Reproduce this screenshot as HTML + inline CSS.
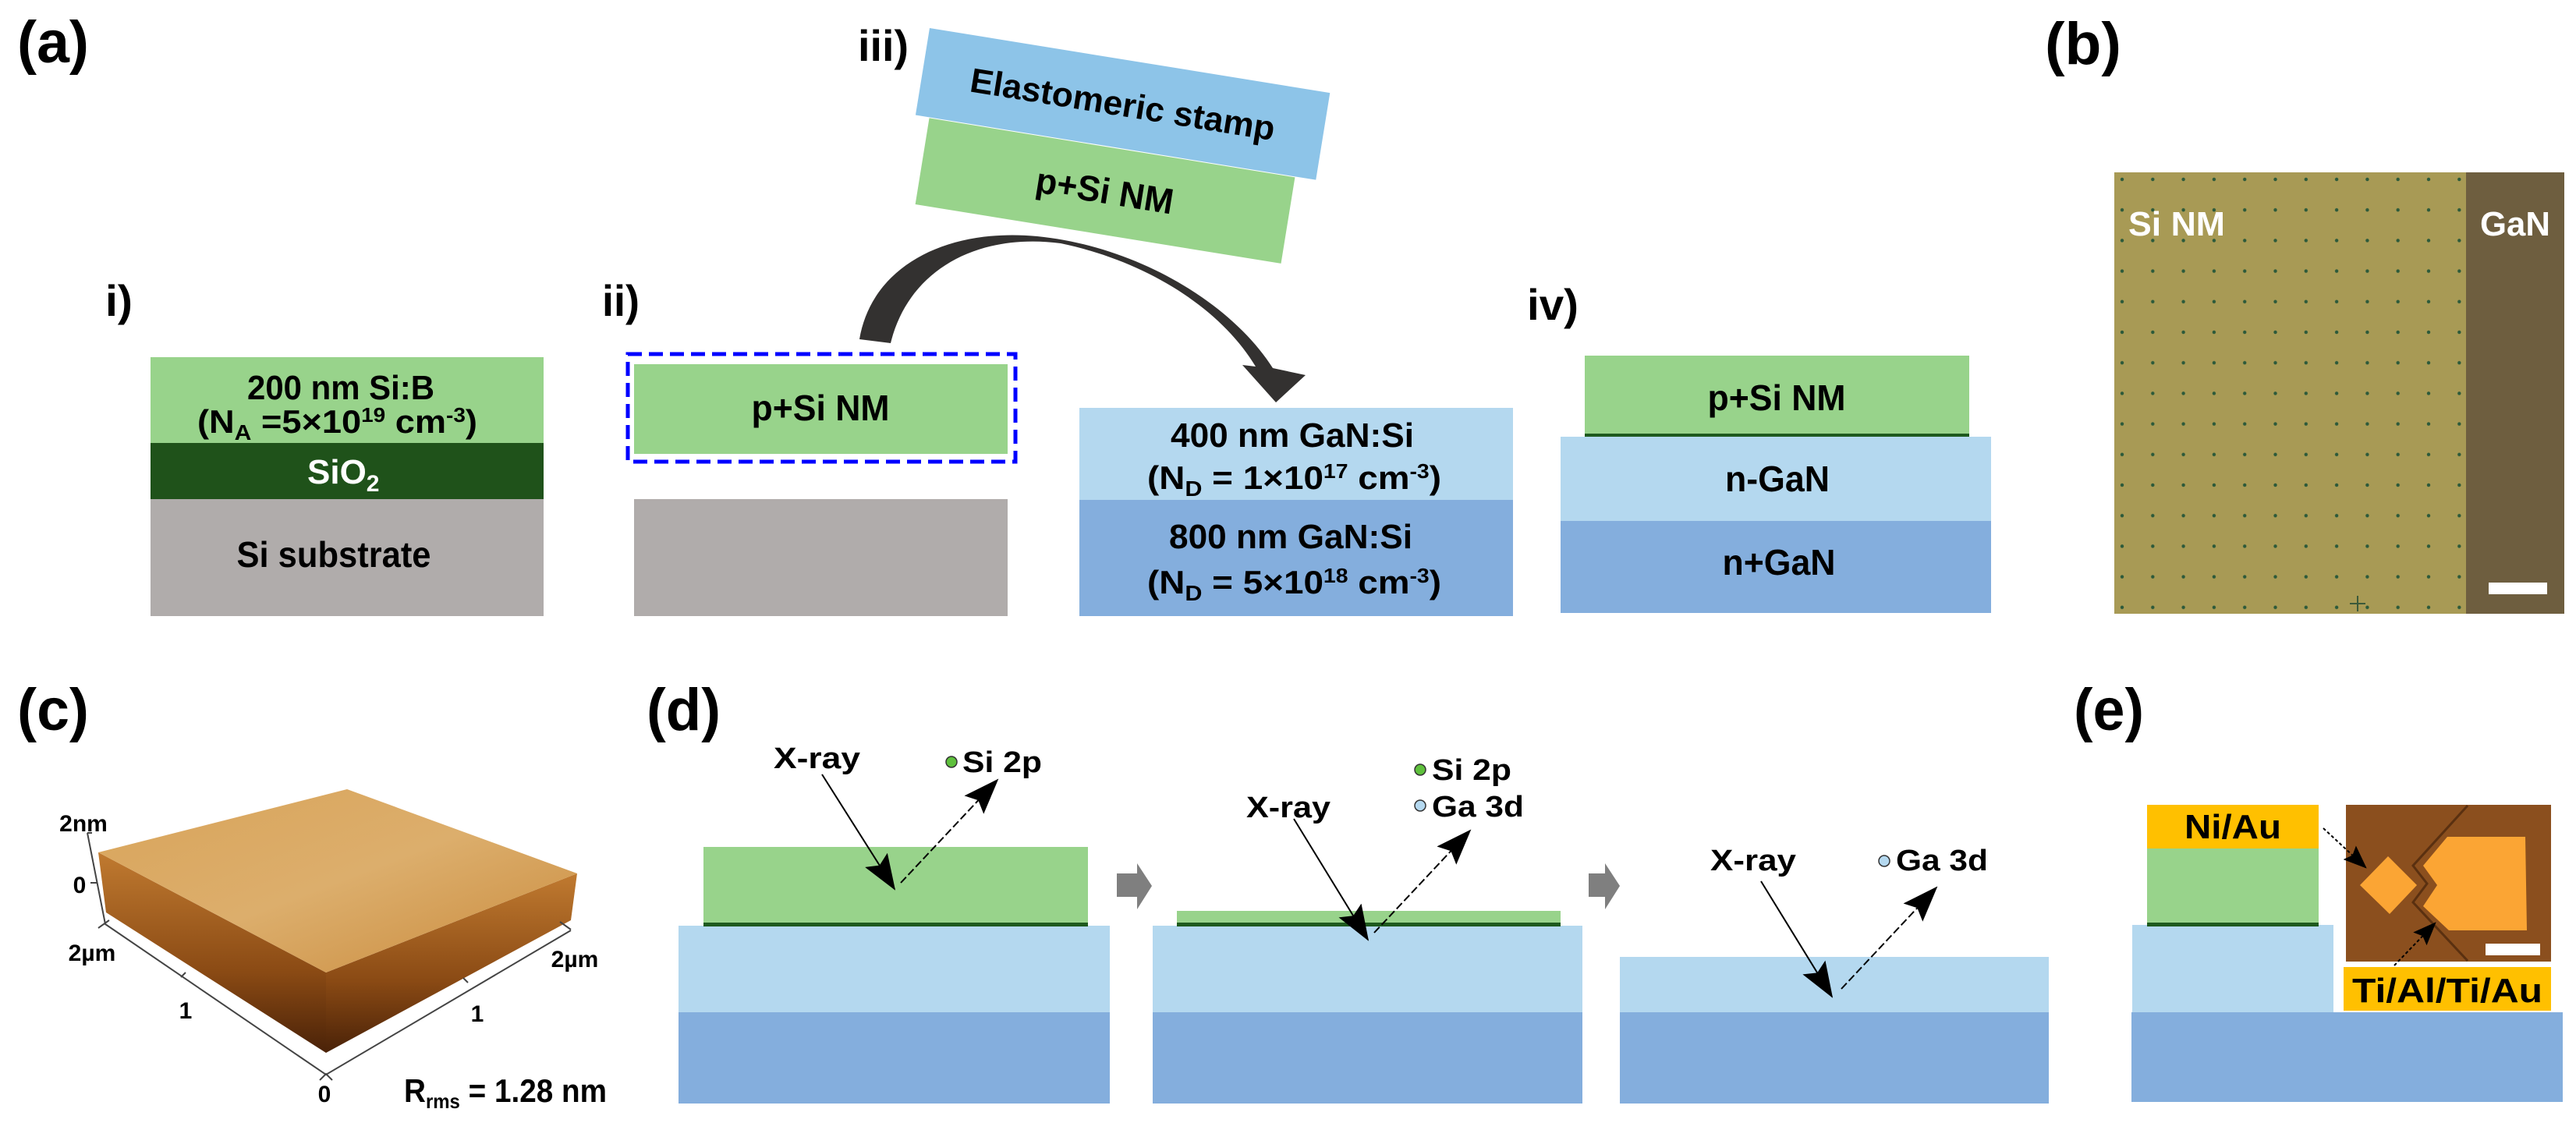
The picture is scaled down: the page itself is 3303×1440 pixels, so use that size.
<!DOCTYPE html>
<html><head><meta charset="utf-8"><style>
html,body{margin:0;padding:0;background:#fff;}
svg{display:block;}
text{font-family:"Liberation Sans Narrow","Liberation Sans",sans-serif;font-weight:bold;fill:#000;}
</style></head><body>
<svg width="3303" height="1440" viewBox="0 0 3303 1440" xmlns="http://www.w3.org/2000/svg">
<defs>
<marker id="ah" markerUnits="userSpaceOnUse" markerWidth="46" markerHeight="34" refX="44" refY="17" orient="auto">
<path d="M0,0 L46,17 L0,34 L8,17 Z" fill="#000"/></marker>
<marker id="ah2" markerUnits="userSpaceOnUse" markerWidth="30" markerHeight="24" refX="29" refY="12" orient="auto">
<path d="M0,0 L30,12 L0,24 L5,12 Z" fill="#000"/></marker>
<pattern id="dots" x="2721" y="230" width="39.3" height="39.2" patternUnits="userSpaceOnUse">
<circle cx="0" cy="0" r="2.2" fill="#2c5a3a"/><circle cx="39.3" cy="0" r="2.2" fill="#2c5a3a"/>
<circle cx="0" cy="39.2" r="2.2" fill="#2c5a3a"/><circle cx="39.3" cy="39.2" r="2.2" fill="#2c5a3a"/></pattern>
<linearGradient id="top" x1="0" y1="0" x2="1" y2="1"><stop offset="0" stop-color="#d9a45a"/><stop offset="0.5" stop-color="#dcae6c"/><stop offset="1" stop-color="#c98a3c"/></linearGradient>
<linearGradient id="side" x1="0" y1="0" x2="0" y2="1"><stop offset="0" stop-color="#c07a30"/><stop offset="0.6" stop-color="#8a4a14"/><stop offset="1" stop-color="#4a2208"/></linearGradient>
</defs>

<!-- panel labels -->
<text x="22" y="80" font-size="76" textLength="92" lengthAdjust="spacingAndGlyphs">(a)</text>
<text x="2622" y="82" font-size="76" textLength="98" lengthAdjust="spacingAndGlyphs">(b)</text>
<text x="22" y="936" font-size="76" textLength="92" lengthAdjust="spacingAndGlyphs">(c)</text>
<text x="829" y="936" font-size="76" textLength="95" lengthAdjust="spacingAndGlyphs">(d)</text>
<text x="2659" y="936" font-size="76" textLength="90" lengthAdjust="spacingAndGlyphs">(e)</text>
<text x="135" y="405" font-size="56" textLength="35" lengthAdjust="spacingAndGlyphs">i)</text>
<text x="772" y="405" font-size="56" textLength="48" lengthAdjust="spacingAndGlyphs">ii)</text>
<text x="1100" y="78" font-size="56" textLength="65" lengthAdjust="spacingAndGlyphs">iii)</text>
<text x="1958" y="410" font-size="56" textLength="66" lengthAdjust="spacingAndGlyphs">iv)</text>

<!-- i) -->
<rect x="193" y="458" width="504" height="110" fill="#98d38b"/>
<rect x="193" y="568" width="504" height="72" fill="#1f521a"/>
<rect x="193" y="640" width="504" height="150" fill="#b0acab"/>
<text x="437" y="512" font-size="44" text-anchor="middle" textLength="240" lengthAdjust="spacingAndGlyphs">200 nm Si:B</text>
<text x="253" y="555" font-size="42" textLength="359" lengthAdjust="spacingAndGlyphs">(N<tspan font-size="28" dy="9">A</tspan><tspan dy="-9"> =5×10</tspan><tspan font-size="26" dy="-14">19</tspan><tspan dy="14"> cm</tspan><tspan font-size="26" dy="-14">-3</tspan><tspan dy="14">)</tspan></text>
<text x="394" y="620" font-size="44" style="fill:#fff">SiO<tspan font-size="30" dy="10" style="fill:#fff">2</tspan></text>
<text x="428" y="727" font-size="46" text-anchor="middle" textLength="249" lengthAdjust="spacingAndGlyphs">Si substrate</text>

<!-- ii) -->
<rect x="805" y="454" width="497" height="138" fill="none" stroke="#0000ff" stroke-width="5" stroke-dasharray="18,9"/>
<rect x="813" y="467" width="479" height="115" fill="#98d38b"/>
<text x="1052" y="539" font-size="46" text-anchor="middle" textLength="177" lengthAdjust="spacingAndGlyphs">p+Si NM</text>
<rect x="813" y="640" width="479" height="150" fill="#b0acab"/>

<!-- iii) stamp -->
<g transform="rotate(9.2 1192 36)">
<rect x="1192" y="36" width="520" height="113" fill="#8dc4e8"/>
<rect x="1210" y="150" width="475" height="112" fill="#98d38b"/>
<text x="1452" y="108" font-size="44" text-anchor="middle" textLength="395" lengthAdjust="spacingAndGlyphs">Elastomeric stamp</text>
<text x="1447" y="222" font-size="46" text-anchor="middle" textLength="178" lengthAdjust="spacingAndGlyphs">p+Si NM</text>
</g>
<!-- curved arrow -->
<path d="M1102,435 C1118,340 1215,292 1330,303 C1460,316 1580,390 1632,472 L1674,481 L1636,516 L1593,468 L1610,470 C1565,395 1470,335 1360,312 C1255,298 1165,345 1142,440 Z" fill="#333130"/>

<!-- GaN stack -->
<rect x="1384" y="523" width="556" height="118" fill="#b4d8ef"/>
<rect x="1384" y="641" width="556" height="149" fill="#84aedd"/>
<text x="1657" y="573" font-size="44" text-anchor="middle" textLength="312" lengthAdjust="spacingAndGlyphs">400 nm GaN:Si</text>
<text x="1471" y="627" font-size="42" textLength="377" lengthAdjust="spacingAndGlyphs">(N<tspan font-size="28" dy="9">D</tspan><tspan dy="-9"> = 1×10</tspan><tspan font-size="26" dy="-14">17</tspan><tspan dy="14"> cm</tspan><tspan font-size="26" dy="-14">-3</tspan><tspan dy="14">)</tspan></text>
<text x="1655" y="703" font-size="44" text-anchor="middle" textLength="312" lengthAdjust="spacingAndGlyphs">800 nm GaN:Si</text>
<text x="1471" y="761" font-size="42" textLength="377" lengthAdjust="spacingAndGlyphs">(N<tspan font-size="28" dy="9">D</tspan><tspan dy="-9"> = 5×10</tspan><tspan font-size="26" dy="-14">18</tspan><tspan dy="14"> cm</tspan><tspan font-size="26" dy="-14">-3</tspan><tspan dy="14">)</tspan></text>

<!-- iv) -->
<rect x="2032" y="456" width="493" height="101" fill="#98d38b"/>
<rect x="2032" y="556" width="493" height="5" fill="#1e5a1e"/>
<rect x="2001" y="560" width="552" height="108" fill="#b4d8ef"/>
<rect x="2001" y="668" width="552" height="118" fill="#84aedd"/>
<text x="2278" y="526" font-size="46" text-anchor="middle" textLength="177" lengthAdjust="spacingAndGlyphs">p+Si NM</text>
<text x="2279" y="630" font-size="46" text-anchor="middle" textLength="134" lengthAdjust="spacingAndGlyphs">n-GaN</text>
<text x="2281" y="737" font-size="46" text-anchor="middle" textLength="145" lengthAdjust="spacingAndGlyphs">n+GaN</text>

<!-- (b) -->
<rect x="2711" y="221" width="451" height="566" fill="#a89a55"/>
<rect x="2711" y="221" width="451" height="566" fill="url(#dots)"/>
<rect x="3162" y="221" width="126" height="566" fill="#6e5e3f"/>
<text x="2729" y="302" font-size="44" style="fill:#fff" textLength="124" lengthAdjust="spacingAndGlyphs">Si NM</text>
<text x="3180" y="302" font-size="44" style="fill:#fff" textLength="90" lengthAdjust="spacingAndGlyphs">GaN</text>
<rect x="3191" y="747" width="75" height="15" fill="#fff"/>
<path d="M3023,764 V784 M3013,774 H3033" stroke="#3c5a3a" stroke-width="2"/>

<!-- (c) AFM -->
<polygon points="126,1093 418,1247 418,1350 136,1170" fill="url(#side)"/>
<polygon points="418,1247 740,1120 732,1180 418,1350" fill="url(#side)"/>
<polygon points="445,1012 740,1120 418,1247 126,1093" fill="url(#top)"/>
<path d="M112,1068 L135,1185 L418,1378 L732,1193" fill="none" stroke="#444" stroke-width="2"/>
<path d="M112,1068 h6 M116,1132 h8 M126,1190 l14,-10 M718,1182 l14,10 M232,1253 l6,-6 M600,1260 l-6,-6 M410,1385 l8,-8 l8,8" fill="none" stroke="#444" stroke-width="2"/>
<text x="107" y="1066" font-size="30" text-anchor="middle">2nm</text>
<text x="102" y="1145" font-size="30" text-anchor="middle">0</text>
<text x="118" y="1232" font-size="30" text-anchor="middle">2µm</text>
<text x="238" y="1306" font-size="30" text-anchor="middle">1</text>
<text x="416" y="1413" font-size="30" text-anchor="middle">0</text>
<text x="612" y="1310" font-size="30" text-anchor="middle">1</text>
<text x="737" y="1240" font-size="30" text-anchor="middle">2µm</text>
<text x="518" y="1413" font-size="42" textLength="260" lengthAdjust="spacingAndGlyphs">R<tspan font-size="26" dy="8">rms</tspan><tspan dy="-8"> = 1.28 nm</tspan></text>

<!-- (d) stack 1 -->
<rect x="870" y="1187" width="553" height="111" fill="#b4d8ef"/>
<rect x="870" y="1298" width="553" height="117" fill="#84aedd"/>
<rect x="902" y="1086" width="493" height="98" fill="#98d38b"/>
<rect x="902" y="1183" width="493" height="5" fill="#1e5a1e"/>
<text x="992" y="985" font-size="38" textLength="111" lengthAdjust="spacingAndGlyphs">X-ray</text>
<circle cx="1220" cy="977" r="7" fill="#5ec03c" stroke="#333" stroke-width="1.5"/>
<text x="1234" y="990" font-size="38" textLength="102" lengthAdjust="spacingAndGlyphs">Si 2p</text>
<line x1="1054" y1="993" x2="1147" y2="1140" stroke="#000" stroke-width="2" marker-end="url(#ah)"/>
<line x1="1155" y1="1132" x2="1279" y2="1000" stroke="#000" stroke-width="2" stroke-dasharray="10,4" marker-end="url(#ah)"/>
<!-- gray arrows -->
<path d="M1432,1120 H1458 V1107 L1477,1136 L1458,1166 V1150 H1432 Z" fill="#7f7f7f"/>
<path d="M2037,1120 H2058 V1107 L2077,1136 L2058,1166 V1150 H2037 Z" fill="#7f7f7f"/>
<!-- stack 2 -->
<rect x="1478" y="1187" width="551" height="111" fill="#b4d8ef"/>
<rect x="1478" y="1298" width="551" height="117" fill="#84aedd"/>
<rect x="1509" y="1168" width="492" height="16" fill="#98d38b"/>
<rect x="1509" y="1183" width="492" height="5" fill="#1e5a1e"/>
<text x="1598" y="1048" font-size="38" textLength="108" lengthAdjust="spacingAndGlyphs">X-ray</text>
<circle cx="1821" cy="987" r="7" fill="#5ec03c" stroke="#333" stroke-width="1.5"/>
<text x="1836" y="1000" font-size="38" textLength="102" lengthAdjust="spacingAndGlyphs">Si 2p</text>
<circle cx="1821" cy="1033" r="7" fill="#b4d8ef" stroke="#333" stroke-width="1.5"/>
<text x="1836" y="1047" font-size="38" textLength="118" lengthAdjust="spacingAndGlyphs">Ga 3d</text>
<line x1="1659" y1="1050" x2="1754" y2="1205" stroke="#000" stroke-width="2" marker-end="url(#ah)"/>
<line x1="1762" y1="1196" x2="1885" y2="1065" stroke="#000" stroke-width="2" stroke-dasharray="10,4" marker-end="url(#ah)"/>
<!-- stack 3 -->
<rect x="2077" y="1227" width="550" height="71" fill="#b4d8ef"/>
<rect x="2077" y="1298" width="550" height="117" fill="#84aedd"/>
<text x="2193" y="1116" font-size="38" textLength="110" lengthAdjust="spacingAndGlyphs">X-ray</text>
<circle cx="2416" cy="1104" r="7" fill="#b4d8ef" stroke="#333" stroke-width="1.5"/>
<text x="2431" y="1116" font-size="38" textLength="118" lengthAdjust="spacingAndGlyphs">Ga 3d</text>
<line x1="2258" y1="1130" x2="2349" y2="1278" stroke="#000" stroke-width="2" marker-end="url(#ah)"/>
<line x1="2361" y1="1268" x2="2483" y2="1138" stroke="#000" stroke-width="2" stroke-dasharray="10,4" marker-end="url(#ah)"/>

<!-- (e) -->
<rect x="2734" y="1186" width="258" height="112" fill="#b4d8ef"/>
<rect x="2733" y="1298" width="553" height="115" fill="#84aedd"/>
<rect x="2753" y="1088" width="220" height="96" fill="#98d38b"/>
<rect x="2753" y="1183" width="220" height="5" fill="#1e5a1e"/>
<rect x="2753" y="1032" width="220" height="56" fill="#ffc000"/>
<text x="2863" y="1075" font-size="44" text-anchor="middle" textLength="124" lengthAdjust="spacingAndGlyphs">Ni/Au</text>
<rect x="3008" y="1032" width="263" height="201" fill="#8b4f1e"/>
<path d="M3164,1033 L3094,1110 L3112,1133 L3094,1157 L3164,1232" fill="none" stroke="#5a3010" stroke-width="3"/>
<polygon points="3062,1098 3099,1135 3064,1172 3026,1135" fill="#fba534"/>
<polygon points="3138,1073 3238,1073 3240,1193 3140,1193 3107,1162 3125,1135 3107,1110" fill="#fba534"/>
<rect x="3187" y="1210" width="70" height="15" fill="#fff"/>
<rect x="3005" y="1240" width="266" height="56" fill="#ffc000"/>
<text x="3138" y="1285" font-size="44" text-anchor="middle" textLength="244" lengthAdjust="spacingAndGlyphs">Ti/Al/Ti/Au</text>
<line x1="2979" y1="1062" x2="3034" y2="1113" stroke="#000" stroke-width="2" stroke-dasharray="4,3" marker-end="url(#ah2)"/>
<line x1="3070" y1="1238" x2="3123" y2="1183" stroke="#000" stroke-width="2" stroke-dasharray="4,3" marker-end="url(#ah2)"/>
</svg>
</body></html>
